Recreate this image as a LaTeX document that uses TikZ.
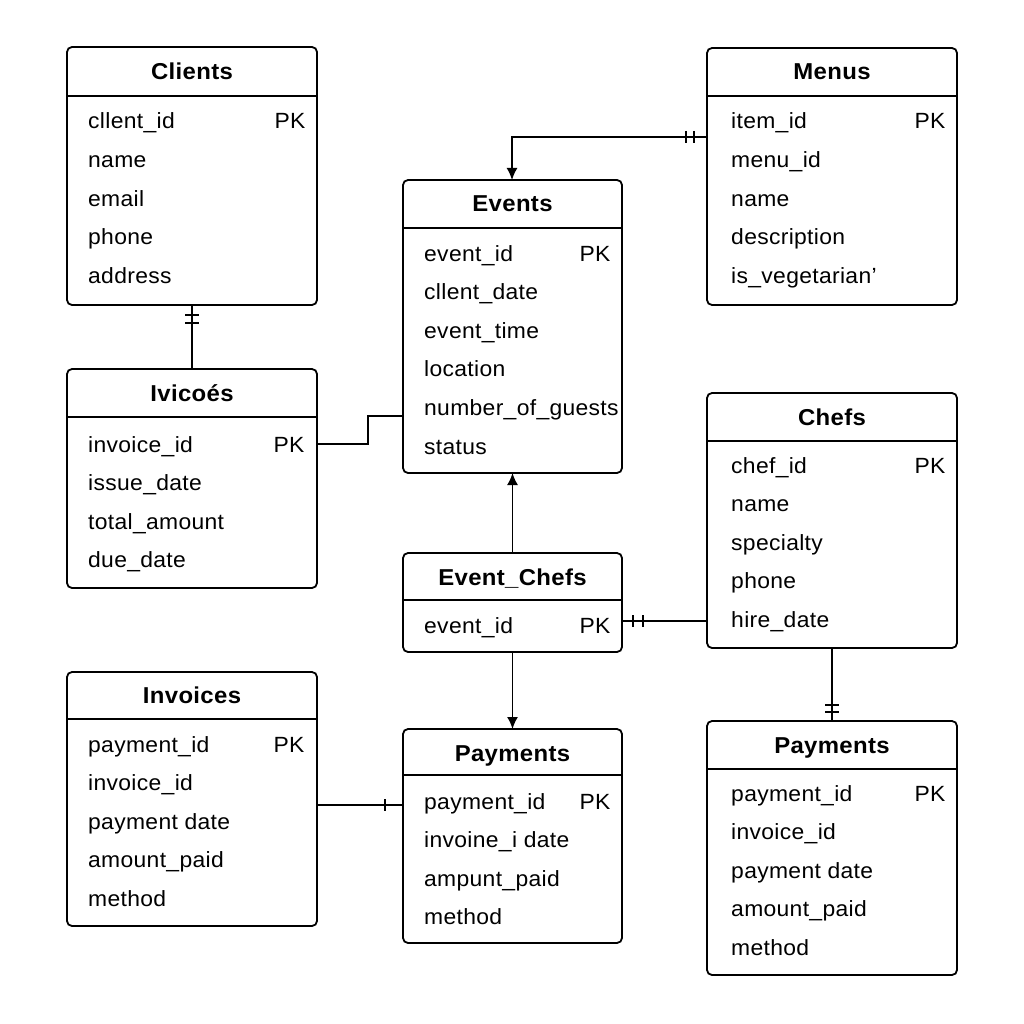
\documentclass[tikz,border=0pt]{standalone}
\usepackage{fontspec}
\setmainfont{Liberation Sans}[FakeStretch=1.04,LetterSpace=1.5]
\usetikzlibrary{arrows.meta}
\begin{document}
\begin{tikzpicture}[x=1pt,y=-1pt,
  tbl/.style={draw, line width=1.8pt, rounded corners=5pt, anchor=north west, inner sep=0pt, outer sep=0pt},
  ttl/.style={font=\fontsize{23}{26}\selectfont\bfseries, anchor=base},
  rowtext/.style={font=\fontsize{22}{26}\selectfont, anchor=base west, inner sep=0pt},
  pk/.style={font=\fontsize{22}{26}\selectfont, anchor=base, inner sep=0pt},
  divl/.style={line width=1.4pt},
  conn/.style={line width=1.6pt},
  arr/.style={conn, -{Latex[length=12pt,width=11pt]}},
  tick/.style={line width=1.4pt}]
\useasboundingbox (0,0) rectangle (1024,1024);
\fill[white] (0,0) rectangle (1024,1024);

% generic entity macro: name, x1, y1, x2, y2, divider y, title, title base y
\newcommand\entitybox[8]{%
  \node[tbl, minimum width=#4-#2, minimum height=#5-#3] (#1) at (#2,#3) {};
  \node[ttl] (#1-t) at ({(#2+#4)/2},#8) {#7};
  \draw[divl] (#2,#6) -- (#4,#6);
}
\newcommand\rowlist[4]{% name, x, first y (visual center), list
  \foreach \t [count=\i from 0] in {#4} {
    \node[rowtext] (#1-r\i) at (#2,{#3+8+\i*38.6}) {\t};
  }
}

% Clients
\entitybox{clients}{67}{47}{317}{305}{96}{Clients}{80}
\rowlist{clients}{88}{121}{cllent\_id,name,email,phone,address}
\node[pk] (clients-pk) at (290,129) {PK};

% Menus
\entitybox{menus}{707}{48}{957}{305}{96}{Menus}{80}
\rowlist{menus}{731}{121}{item\_id,menu\_id,name,description,is\_vegetarian'}
\node[pk] (menus-pk) at (930,129) {PK};

% Events
\entitybox{events}{403}{180}{622}{473}{228}{Events}{212}
\rowlist{events}{424}{253}{event\_id,cllent\_date,event\_time,location,number\_of\_guests,status}
\node[pk] (events-pk) at (595,261) {PK};

% Ivicoes
\entitybox{ivic}{67}{369}{317}{588}{417}{Ivicoés}{401}
\rowlist{ivic}{88}{444}{invoice\_id,issue\_date,total\_amount,due\_date}
\node[pk] (ivic-pk) at (289,452) {PK};

% Chefs
\entitybox{chefs}{707}{393}{957}{648}{441}{Chefs}{425}
\rowlist{chefs}{731}{465}{chef\_id,name,specialty,phone,hire\_date}
\node[pk] (chefs-pk) at (930,473) {PK};

% Event_Chefs
\entitybox{ec}{403}{553}{622}{652}{600}{Event\_Chefs}{585}
\rowlist{ec}{424}{625}{event\_id}
\node[pk] (ec-pk) at (595,633) {PK};

% Invoices
\entitybox{invoices}{67}{672}{317}{926}{719}{Invoices}{703}
\rowlist{invoices}{88}{744}{payment\_id,invoice\_id,payment date,amount\_paid,method}
\node[pk] (invoices-pk) at (289,752) {PK};

% Payments (middle)
\entitybox{paym}{403}{729}{622}{943}{775}{Payments}{761}
\rowlist{paym}{424}{801}{payment\_id,invoine\_i date,ampunt\_paid,method}
\node[pk] (paym-pk) at (595,809) {PK};

% Payments (right)
\entitybox{payr}{707}{721}{957}{975}{769}{Payments}{753}
\rowlist{payr}{731}{793}{payment\_id,invoice\_id,payment date,amount\_paid,method}
\node[pk] (payr-pk) at (930,801) {PK};

% ---- connectors ----
% Menus -> Events
\coordinate (mbend) at (512,137);
\draw[arr] (menus.west |- mbend) -- (mbend) -- (events.north -| mbend);
\draw[tick] ([xshift=-21pt]menus.west |- mbend) ++(0,-6) -- ++(0,12);
\draw[tick] ([xshift=-13pt]menus.west |- mbend) ++(0,-6) -- ++(0,12);

% Clients -- Ivicoes
\draw[conn] (clients.south) -- (ivic.north);
\draw[tick] ([yshift=-10pt]clients.south) ++(-7,0) -- ++(14,0);
\draw[tick] ([yshift=-18pt]clients.south) ++(-7,0) -- ++(14,0);

% Ivicoes -- Events
\coordinate (ie1) at (368,444);
\coordinate (ie2) at (368,416);
\draw[conn] (ivic.east |- ie1) -- (ie1) -- (ie2) -- (events.west |- ie2);

% Event_Chefs -> Events
\draw[arr] (ec.north) -- (events.south);
% Event_Chefs -> Payments
\draw[arr] (ec.south) -- (paym.north);

% Event_Chefs -- Chefs
\coordinate (ecc) at (622,621);
\draw[conn] (ec.east |- ecc) -- (chefs.west |- ecc);
\draw[tick] ([xshift=11pt]ec.east |- ecc) ++(0,-6) -- ++(0,12);
\draw[tick] ([xshift=21pt]ec.east |- ecc) ++(0,-6) -- ++(0,12);

% Chefs -- Payments (right)
\draw[conn] (chefs.south) -- (payr.north);
\draw[tick] ([yshift=9pt]payr.north) ++(-7,0) -- ++(14,0);
\draw[tick] ([yshift=16pt]payr.north) ++(-7,0) -- ++(14,0);

% Invoices -- Payments (middle)
\coordinate (ip) at (317,805);
\draw[conn] (invoices.east |- ip) -- (paym.west |- ip);
\draw[tick] ([xshift=-18pt]paym.west |- ip) ++(0,-6) -- ++(0,12);
\end{tikzpicture}
\end{document}
